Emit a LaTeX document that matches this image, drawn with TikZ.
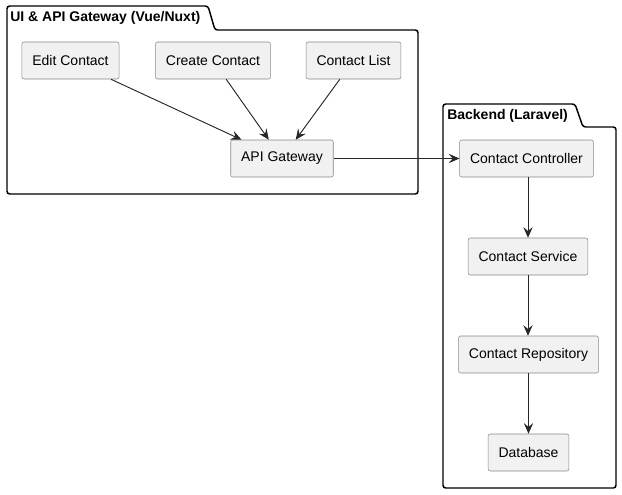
\documentclass[tikz,border=0pt]{standalone}
\usepackage{fontspec}
\setmainfont{Liberation Sans}
\usetikzlibrary{positioning}
\usetikzlibrary{arrows.meta}
\definecolor{box-fill}{HTML}{F1F1F1}
\definecolor{box-line}{HTML}{888888}

\tikzset{
  comp/.style={draw=box-line, fill=box-fill, rounded corners=1.5pt, minimum height=37*0.75pt, inner xsep=7.8pt, font=\fontsize{10.5}{12}\selectfont},
  pkg/.style={draw=black, line width=1.1pt, rounded corners=2pt},
  pkgtitle/.style={anchor=west, inner sep=0pt, font=\bfseries\fontsize{10.5}{12}\selectfont},
  link/.style={-{Stealth[length=8pt, width=7pt, inset=3pt]}, line width=0.7pt, draw=black!85}
}

\begin{document}
\begin{tikzpicture}[x=0.75pt, y=-0.75pt]
\useasboundingbox (0,0) rectangle (622,494);

% packages
\draw[pkg] (7,30) -- (7,6) -- (208,6) -- (215,30) -- (418,30) -- (418,194) -- (7,194) -- cycle;
\node[pkgtitle] (uititle) at (10,18) {UI \& API Gateway (Vue/Nuxt)};

\draw[pkg] (443,127) -- (443,104) -- (575,104) -- (583,127) -- (616,127) -- (616,488) -- (443,488) -- cycle;
\node[pkgtitle] (betitle) at (447,116) {Backend (Laravel)};

% frontend
\node[comp] (edit) at (70.5,60.5) {Edit Contact};
\node[comp] (create) at (213,60.5) {Create Contact};
\node[comp] (list) at (353.5,60.5) {Contact List};
\node[comp] (gateway) at (282,158.5) {API Gateway};

% backend
\node[comp] (controller) at (526.5,158.5) {Contact Controller};
\node[comp] (service) at (528,256.5) {Contact Service};
\node[comp] (repo) at (528.5,354.5) {Contact Repository};
\node[comp] (db) at (528.5,452.5) {Database};

\draw[link] (edit) -- (gateway);
\draw[link] (create) -- (gateway);
\draw[link] (list) -- (gateway);
\draw[link] (gateway) -- (controller);
\draw[link] (controller.south -| service.north) -- (service.north);
\draw[link] (service.south) -- (repo.north -| service.south);
\draw[link] (repo) -- (db);
\end{tikzpicture}
\end{document}
